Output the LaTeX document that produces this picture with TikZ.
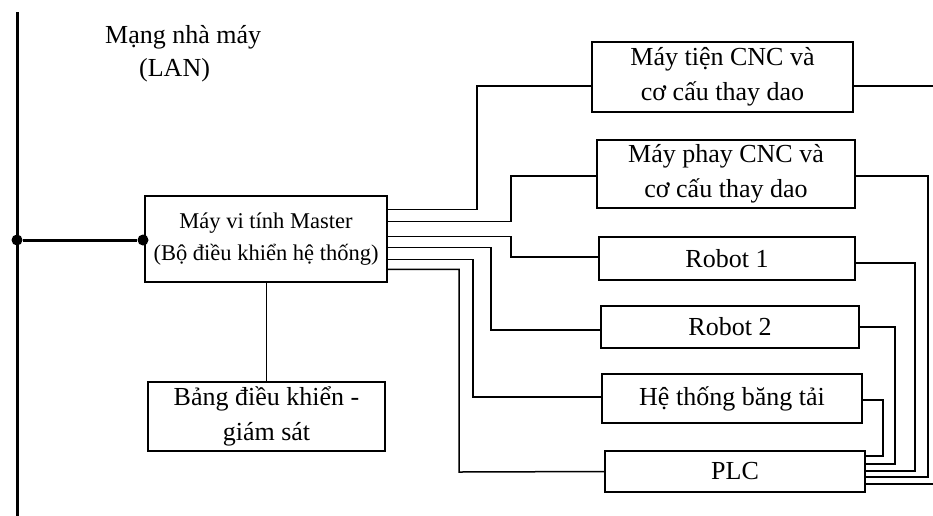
\documentclass[tikz,border=0pt]{standalone}
\usepackage{fontspec}
\setmainfont{Liberation Serif}
\usetikzlibrary{calc}
\begin{document}
\begin{tikzpicture}[x=1pt,y=-1pt,
  wire/.style={line width=1.5pt,line cap=rect},
  bus/.style={line width=3pt},
  unit/.style={draw,line width=1.5pt,inner sep=0pt,align=center,font=\fontsize{26}{35}\selectfont},
  label/.style={inner sep=0pt,anchor=west,font=\fontsize{26}{35}\selectfont},
  junction/.style={circle,fill,inner sep=0pt,minimum size=11pt}]
\useasboundingbox (0,0) rectangle (933,515);

% factory network bus
\coordinate (bustop) at (17,12);
\coordinate (busbot) at (17,520);
\draw[bus] (bustop) -- (busbot);
\node[label] (lan1) at (105,37) {Mạng nhà máy};
\node[label] (lan2) at (139,70) {(LAN)};

% master computer and operator panel
\node[unit,minimum width=242pt,minimum height=86pt,font=\fontsize{22.5}{32}\selectfont] (master) at (266,239)
  {Máy vi tính Master\\(Bộ điều khiển hệ thống)};
\node[unit,minimum width=237pt,minimum height=69pt] (panel) at (266.5,416.5)
  {Bảng điều khiển -\\giám sát};
\node[junction] (jbus) at (17,240) {};
\node[junction] (jmaster) at (143,240) {};
\draw[bus] (jbus) -- (jmaster);
\draw[wire] (master.south -| panel.north) -- (panel.north);

% machines on the cell network
\node[unit,minimum width=261pt,minimum height=70pt] (lathe) at (722.5,77) {Máy tiện CNC và\\cơ cấu thay dao};
\node[unit,minimum width=258pt,minimum height=68pt] (mill) at (726,174) {Máy phay CNC và\\cơ cấu thay dao};
\node[unit,minimum width=256pt,minimum height=43pt] (robA) at (727,258.5) {Robot 1};
\node[unit,minimum width=258pt,minimum height=42pt] (robB) at (730,327) {Robot 2};
\node[unit,minimum width=260pt,minimum height=49pt] (conv) at (732,398.5) {Hệ thống băng tải};
\node[unit,minimum width=260pt,minimum height=41pt] (plc) at (735,471.5) {PLC};

% links from the master
\draw[wire] ([yshift=-14pt]master.north east) -| (477,86) -- ([yshift=-9pt]lathe.west);
\draw[wire] ([yshift=-26pt]master.north east) -| (511,176) -- ([yshift=-2pt]mill.west);
\draw[wire] ([yshift=-41pt]master.north east) -| (511,257) -- ([yshift=1.5pt]robA.west);
\draw[wire] ([yshift=-52pt]master.north east) -| (491,330) -- ([yshift=-3pt]robB.west);
\draw[wire] ([yshift=-64pt]master.north east) -| (473,397) -- ([yshift=1.5pt]conv.west);
\draw[wire] ([yshift=-74pt]master.north east) -| (459,472) -- (plc.west);

% links into the PLC
\coordinate (wrap) at (945,86);
\draw[wire] ([yshift=-9pt]lathe.east) -- (wrap) |- ([yshift=-12.5pt]plc.east);
\draw[wire] ([yshift=-2pt]mill.east) -| (928,477) -- ([yshift=-5.5pt]plc.east);
\draw[wire] ([yshift=-4.5pt]robA.east) -| (915,471) -- ([yshift=0.5pt]plc.east);
\draw[wire] (robB.east) -| (895,464) -- ([yshift=7.5pt]plc.east);
\draw[wire] ([yshift=-1.5pt]conv.east) -| (883,456) -- ([yshift=15.5pt]plc.east);
\end{tikzpicture}
\end{document}
